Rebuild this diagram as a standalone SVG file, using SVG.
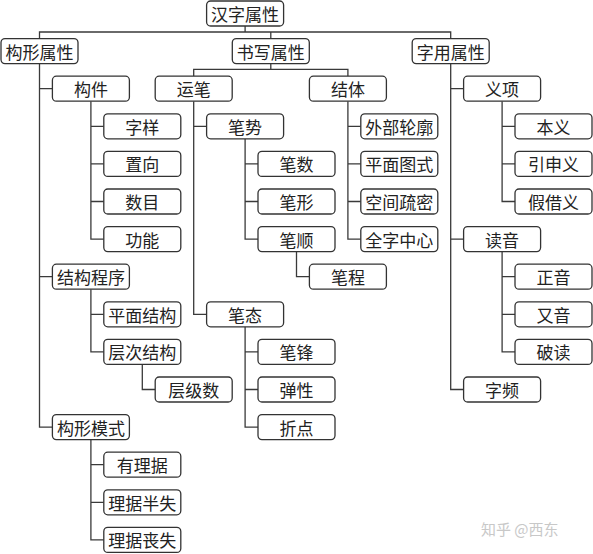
<svg xmlns="http://www.w3.org/2000/svg" width="593" height="554" viewBox="0 0 593 554">
<style>
.box{fill:#fff;stroke:#333;stroke-width:1.3}
.n text{font-family:"Noto Sans CJK SC","Noto Sans",sans-serif;font-size:17px;fill:#222;text-anchor:middle;dominant-baseline:central}
#connectors path{fill:none;stroke:#3a3a3a;stroke-width:1.3}
.wm{font-family:"Noto Sans CJK SC",sans-serif;font-size:15px;fill:#c8c8c8}
</style>
<defs>
<rect id="b" class="box" width="77" height="25" rx="4" fill="#fff" stroke="#333" stroke-width="1.3"/>
</defs>
<rect width="593" height="554" fill="#fff"/>
<g id="connectors">
<path d="M39.5,38.6V32H450.7V38.6M245.1,26V32M270.8,32V38.6"/>
<path d="M39.5,63.6V427.1H52.4M39.5,88.7H52.4M39.5,276.7H52.4"/>
<path d="M90.9,101.2V239.1H103.8M90.9,126.3H103.8M90.9,163.9H103.8M90.9,201.5H103.8"/>
<path d="M90.9,289.2V351.9H103.8M90.9,314.3H103.8"/>
<path d="M142.3,364.4V389.5H155.2"/>
<path d="M90.9,439.6V539.9H103.8M90.9,464.7H103.8M90.9,502.3H103.8"/>
<path d="M270.8,63.6V69.4M193.7,76.2V69.4H347.9V76.2"/>
<path d="M193.7,101.2V314.3H206.6M193.7,126.3H206.6"/>
<path d="M245.1,138.8V239.1H258M245.1,163.9H258M245.1,201.5H258"/>
<path d="M296.5,251.6V276.7H309.4"/>
<path d="M245.1,326.8V427.1H258M245.1,351.9H258M245.1,389.5H258"/>
<path d="M347.9,101.2V239.1H360.8M347.9,126.3H360.8M347.9,163.9H360.8M347.9,201.5H360.8"/>
<path d="M450.7,63.6V389.5H463.6M450.7,88.7H463.6M450.7,239.1H463.6"/>
<path d="M502.1,101.2V201.5H515M502.1,126.3H515M502.1,163.9H515"/>
<path d="M502.1,251.6V351.9H515M502.1,276.7H515M502.1,314.3H515"/>
</g>
<g id="root" class="n" transform="translate(206.6,1)"><use href="#b"/><text x="38.5" y="12.5">汉字属性</text></g>
<g id="gouxing" class="n" transform="translate(1,38.6)"><use href="#b"/><text x="38.5" y="12.5">构形属性</text></g>
<g id="shuxie" class="n" transform="translate(232.3,38.6)"><use href="#b"/><text x="38.5" y="12.5">书写属性</text></g>
<g id="ziyong" class="n" transform="translate(412.2,38.6)"><use href="#b"/><text x="38.5" y="12.5">字用属性</text></g>
<g id="goujian" class="n" transform="translate(52.4,76.2)"><use href="#b"/><text x="38.5" y="12.5">构件</text></g>
<g id="ziyang" class="n" transform="translate(103.8,113.8)"><use href="#b"/><text x="38.5" y="12.5">字样</text></g>
<g id="zhixiang" class="n" transform="translate(103.8,151.4)"><use href="#b"/><text x="38.5" y="12.5">置向</text></g>
<g id="shumu" class="n" transform="translate(103.8,189)"><use href="#b"/><text x="38.5" y="12.5">数目</text></g>
<g id="gongneng" class="n" transform="translate(103.8,226.6)"><use href="#b"/><text x="38.5" y="12.5">功能</text></g>
<g id="jiegouchengxu" class="n" transform="translate(52.4,264.2)"><use href="#b"/><text x="38.5" y="12.5">结构程序</text></g>
<g id="pingmianjiegou" class="n" transform="translate(103.8,301.8)"><use href="#b"/><text x="38.5" y="12.5">平面结构</text></g>
<g id="cengcijiegou" class="n" transform="translate(103.8,339.4)"><use href="#b"/><text x="38.5" y="12.5">层次结构</text></g>
<g id="cengjishu" class="n" transform="translate(155.2,377)"><use href="#b"/><text x="38.5" y="12.5">层级数</text></g>
<g id="gouxingmoshi" class="n" transform="translate(52.4,414.6)"><use href="#b"/><text x="38.5" y="12.5">构形模式</text></g>
<g id="youliju" class="n" transform="translate(103.8,452.2)"><use href="#b"/><text x="38.5" y="12.5">有理据</text></g>
<g id="lijubanshi" class="n" transform="translate(103.8,489.8)"><use href="#b"/><text x="38.5" y="12.5">理据半失</text></g>
<g id="lijusangshi" class="n" transform="translate(103.8,527.4)"><use href="#b"/><text x="38.5" y="12.5">理据丧失</text></g>
<g id="yunbi" class="n" transform="translate(155.2,76.2)"><use href="#b"/><text x="38.5" y="12.5">运笔</text></g>
<g id="bishi" class="n" transform="translate(206.6,113.8)"><use href="#b"/><text x="38.5" y="12.5">笔势</text></g>
<g id="bishu" class="n" transform="translate(258,151.4)"><use href="#b"/><text x="38.5" y="12.5">笔数</text></g>
<g id="bixing" class="n" transform="translate(258,189)"><use href="#b"/><text x="38.5" y="12.5">笔形</text></g>
<g id="bishun" class="n" transform="translate(258,226.6)"><use href="#b"/><text x="38.5" y="12.5">笔顺</text></g>
<g id="bicheng" class="n" transform="translate(309.4,264.2)"><use href="#b"/><text x="38.5" y="12.5">笔程</text></g>
<g id="bitai" class="n" transform="translate(206.6,301.8)"><use href="#b"/><text x="38.5" y="12.5">笔态</text></g>
<g id="bifeng" class="n" transform="translate(258,339.4)"><use href="#b"/><text x="38.5" y="12.5">笔锋</text></g>
<g id="tanxing" class="n" transform="translate(258,377)"><use href="#b"/><text x="38.5" y="12.5">弹性</text></g>
<g id="zhedian" class="n" transform="translate(258,414.6)"><use href="#b"/><text x="38.5" y="12.5">折点</text></g>
<g id="jieti" class="n" transform="translate(309.4,76.2)"><use href="#b"/><text x="38.5" y="12.5">结体</text></g>
<g id="waibulunkuo" class="n" transform="translate(360.8,113.8)"><use href="#b"/><text x="38.5" y="12.5">外部轮廓</text></g>
<g id="pingmiantushi" class="n" transform="translate(360.8,151.4)"><use href="#b"/><text x="38.5" y="12.5">平面图式</text></g>
<g id="kongjianshumi" class="n" transform="translate(360.8,189)"><use href="#b"/><text x="38.5" y="12.5">空间疏密</text></g>
<g id="quanzizhongxin" class="n" transform="translate(360.8,226.6)"><use href="#b"/><text x="38.5" y="12.5">全字中心</text></g>
<g id="yixiang" class="n" transform="translate(463.6,76.2)"><use href="#b"/><text x="38.5" y="12.5">义项</text></g>
<g id="benyi" class="n" transform="translate(515,113.8)"><use href="#b"/><text x="38.5" y="12.5">本义</text></g>
<g id="yinshenyi" class="n" transform="translate(515,151.4)"><use href="#b"/><text x="38.5" y="12.5">引申义</text></g>
<g id="jiajieyi" class="n" transform="translate(515,189)"><use href="#b"/><text x="38.5" y="12.5">假借义</text></g>
<g id="duyin" class="n" transform="translate(463.6,226.6)"><use href="#b"/><text x="38.5" y="12.5">读音</text></g>
<g id="zhengyin" class="n" transform="translate(515,264.2)"><use href="#b"/><text x="38.5" y="12.5">正音</text></g>
<g id="youyin" class="n" transform="translate(515,301.8)"><use href="#b"/><text x="38.5" y="12.5">又音</text></g>
<g id="podu" class="n" transform="translate(515,339.4)"><use href="#b"/><text x="38.5" y="12.5">破读</text></g>
<g id="zipin" class="n" transform="translate(463.6,377)"><use href="#b"/><text x="38.5" y="12.5">字频</text></g>
<text class="wm" x="481" y="535">知乎 @西东</text>
</svg>
